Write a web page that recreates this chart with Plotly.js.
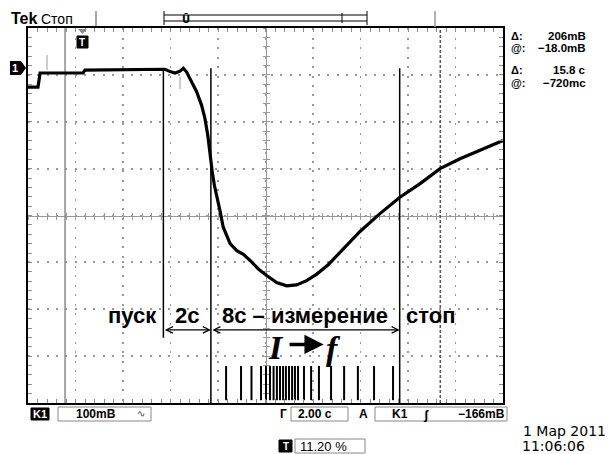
<!DOCTYPE html>
<html><head><meta charset="utf-8">
<script src="https://cdn.plot.ly/plotly-3.0.1.min.js"></script>
<style>html,body{margin:0;padding:0;background:#fff}#chart{width:613px;height:454px}</style>
</head><body><div id="chart"></div>
<script>
// ---------------- DATA ----------------
// Waveform: time (s) from left edge of the screen, voltage (mV) relative to screen centre
const timeS  = [0, 0.42, 0.51, 1.35, 2.32, 2.40, 3.45, 4.72, 5.77, 5.98, 6.19, 6.40, 6.54, 6.68, 6.89, 7.10, 7.31, 7.45, 7.57, 7.66, 7.76, 7.85, 7.95, 8.08, 8.22, 8.37, 8.51, 8.79, 9.07, 9.35, 9.70, 10.05, 10.47, 10.89, 11.31, 11.73, 12.16, 12.64, 13.14, 13.98, 14.82, 15.66, 16.51, 17.35, 18.19, 19.03, 19.87, 20];
const voltMV = [274, 274, 304, 304, 304, 310, 311, 312, 312, 307, 304, 308, 314, 306, 285, 264, 235, 207, 171, 128, 92, 64, 43, 11, -25, -45, -60, -75, -83, -96, -114, -128, -143, -150, -148, -139, -125, -105, -79, -34, 4, 39, 68, 100, 121, 139, 157, 160];
// Event markers (s): start, end of 2 s delay, stop
const eventTimes = [5.7, 7.7, 15.65];
const eventNames = ['пуск', '2с', '8с – измерение', 'стоп'];
// Frequency pulse train (s)
const pulseTimes = [8.34, 8.97, 9.41, 9.81, 10.02, 10.19, 10.34, 10.48, 10.61, 10.74, 10.86, 10.99, 11.12, 11.24, 11.37, 11.62, 11.92, 12.25, 12.76, 13.31, 13.89, 14.57, 15.37];
// Cursors (s)
const cursorTimes = [1.56, 17.36];
// Readouts
const readLabels = ['Δ:', '@:', 'Δ:', '@:'];
const readValues = ['206mB', '−18.0mB', '15.8 с', '−720mс'];
const scaleV = '100mB', scaleT = '2.00 с', trigLevel = '−166mB', trigPos = '11.20 %';
const dateStr = '1 Мар 2011', timeStr = '11:06:06';

// ---------------- LEVELS (drawing) ----------------
const eventTop = 314, eventBottoms = [-261, -400, -400];
const pulseTop = -321, pulseBottom = -394;
const arrowY = -244, labelY = -214;

// helpers for paper coords of the plotting area (28..503 x, 28..403 y)
const L = 28, T = 28, W = 475, H = 375;
const px = x => (x - L) / W;
const py = y => (T + H - y) / H;

function segs(xs, y0s, y1s) {
  const X = [], Y = [];
  xs.forEach((x, i) => { X.push(x, x, null); Y.push(Array.isArray(y0s) ? y0s[i] : y0s, Array.isArray(y1s) ? y1s[i] : y1s, null); });
  return {X, Y};
}

const cur0 = segs([cursorTimes[0]], -400, 400);
const cur1 = segs([cursorTimes[1]], -400, 400);
const ev = segs(eventTimes, eventTop, eventBottoms);
const pu = segs(pulseTimes, pulseTop, pulseBottom);

const traces = [
  {x: cur0.X, y: cur0.Y, mode: 'lines', line: {color: '#8a8a8a', width: 1.5}, hoverinfo: 'skip'},
  {x: cur1.X, y: cur1.Y, mode: 'lines', line: {color: '#555', width: 1.5, dash: '3px,2px'}, hoverinfo: 'skip'},
  {x: pu.X, y: pu.Y, mode: 'lines', line: {color: '#000', width: 2}, hoverinfo: 'skip'},
  {x: ev.X, y: ev.Y, mode: 'lines', line: {color: '#000', width: 1.5}, hoverinfo: 'skip'},
  {x: timeS, y: voltMV, mode: 'lines', line: {color: '#000', width: 3.2}, hoverinfo: 'skip'},
  {x: [], y: [], xaxis: 'x2', yaxis: 'y2', mode: 'lines'},
  {x: [], y: [], xaxis: 'x3', yaxis: 'y3', mode: 'lines'}
];

const tickGray = '#8c8c8c';
function frameAxis(range, dtick, minorD, dash) {
  return {range, dtick, tick0: range[0], showgrid: true, gridcolor: '#999', gridwidth: 1.8, griddash: dash,
    zeroline: false, showline: true, linecolor: '#000', linewidth: 2, mirror: 'allticks',
    ticks: 'inside', ticklen: 4, tickcolor: tickGray, tickwidth: 1, showticklabels: false,
    minor: {dtick: minorD, tick0: range[0], ticks: 'inside', ticklen: 4, tickcolor: tickGray, tickwidth: 1, showgrid: false},
    fixedrange: true};
}
function centerAxis(range, dtick, side, ticks, over) {
  return {range, dtick, tick0: range[0], overlaying: over, anchor: 'free', position: 0.5, side,
    showgrid: false, zeroline: false, showline: true, linecolor: '#999', linewidth: 1,
    ticks, ticklen: 3, tickcolor: '#999', tickwidth: 1, showticklabels: false, layer: 'below traces', fixedrange: true};
}

const bold = (s, c, f) => ({family: f || 'Liberation Sans, Arial, sans-serif', size: s, color: c || '#000', weight: 'bold'});
const reg = (s, c, f) => ({family: f || 'Liberation Sans, Arial, sans-serif', size: s, color: c || '#000'});

const ann = [];
function ptxt(text, x, y, font, xa, ya) {
  ann.push({xref: 'paper', yref: 'paper', x: px(x), y: py(y), text, showarrow: false, font, xanchor: xa || 'left', yanchor: ya || 'middle', borderpad: 0});
}

// Labels in data coords
const lblFont = bold(22);
ann.push({x: eventTimes[0] - 0.2, y: labelY, text: eventNames[0], showarrow: false, font: lblFont, xanchor: 'right', yanchor: 'middle'});
ann.push({x: (eventTimes[0] + eventTimes[1]) / 2, y: labelY, text: eventNames[1], showarrow: false, font: lblFont, xanchor: 'center', yanchor: 'middle'});
ann.push({x: (eventTimes[1] + eventTimes[2]) / 2, y: labelY, text: eventNames[2], showarrow: false, font: lblFont, xanchor: 'center', yanchor: 'middle'});
ann.push({x: eventTimes[2] + 0.2, y: labelY, text: eventNames[3], showarrow: false, font: lblFont, xanchor: 'left', yanchor: 'middle'});
// double arrows
[[eventTimes[0], eventTimes[1]], [eventTimes[1], eventTimes[2]]].forEach(([a, b]) => {
  ann.push({x: b, y: arrowY, ax: a, ay: arrowY, axref: 'x', ayref: 'y', xref: 'x', yref: 'y', text: '', showarrow: true,
    arrowhead: 5, startarrowhead: 5, arrowside: 'end+start', arrowsize: 1, startarrowsize: 1, arrowwidth: 1.3, arrowcolor: '#000'});
});
// I -> f
const serif = {family: 'Liberation Serif, Times New Roman, serif', size: 34, color: '#000', weight: 'bold', style: 'italic'};
ann.push({x: 10.44, y: -281, text: 'I', showarrow: false, font: serif, xanchor: 'center', yanchor: 'middle'});
ann.push({x: 12.85, y: -283, text: 'f', showarrow: false, font: serif, xanchor: 'center', yanchor: 'middle'});
ann.push({x: 12.45, y: -275, ax: 10.95, ay: -275, axref: 'x', ayref: 'y', xref: 'x', yref: 'y', text: '', showarrow: true,
  arrowhead: 2, arrowsize: 1.1, arrowwidth: 3.5, arrowcolor: '#000'});

// top bar
ptxt('Tek', 10, 18, bold(16));
ptxt('Стоп', 40, 19, reg(14));
// readouts
const rdY = [35.5, 48, 70.5, 83];
readLabels.forEach((t, i) => ptxt(t, 510, rdY[i], bold(11)));
readValues.forEach((t, i) => ptxt(t, 587, rdY[i], bold(11.5), 'right'));
// bottom bar
ptxt('K1', 40, 414, bold(11, '#fff'), 'center');
ptxt(scaleV, 75, 414, bold(12));
ptxt('∿', 141, 413, reg(10, '#444'), 'center');
ptxt('Г', 283, 414, bold(12), 'center');
ptxt(scaleT, 297, 414, bold(12));
ptxt('A', 363, 414, bold(12), 'center');
ptxt('K1', 391, 414, bold(12));
ptxt('ʃ', 426, 414, bold(13), 'center');
ptxt(trigLevel, 506, 414, bold(12), 'right');
ptxt(dateStr, 522, 431, reg(14, '#000', 'DejaVu Sans, sans-serif'));
ptxt(timeStr, 521, 446, reg(14, '#000', 'DejaVu Sans, sans-serif'));
ptxt('T', 285.5, 446, bold(10, '#fff'), 'center');
ptxt(trigPos, 299, 446, reg(13));
// markers
ptxt('1', 15, 68, bold(11, '#fff'), 'center');
ptxt('T', 82, 42, bold(10, '#fff'), 'center');
ptxt('Ū', 186, 19, bold(10, '#000', 'DejaVu Sans, sans-serif'), 'center');

const shapes = [];
function pline(x0, y0, x1, y1, color, width, dash) {
  shapes.push({type: 'line', xref: 'paper', yref: 'paper', x0: px(x0), y0: py(y0), x1: px(x1), y1: py(y1), line: {color, width, dash: dash || 'solid'}, layer: 'above'});
}
function prect(x0, y0, x1, y1, color, fill) {
  shapes.push({type: 'rect', xref: 'paper', yref: 'paper', x0: px(x0), y0: py(y0), x1: px(x1), y1: py(y1), line: {color, width: 1}, fillcolor: fill || 'rgba(0,0,0,0)', layer: 'below'});
}
function ppath(pts, fill) {
  const d = pts.map((p, i) => (i ? 'L' : 'M') + px(p[0]).toFixed(5) + ',' + py(p[1]).toFixed(5)).join(' ') + ' Z';
  shapes.push({type: 'path', xref: 'paper', yref: 'paper', path: d, fillcolor: fill, line: {width: 0}, layer: 'below'});
}
// top record bar
pline(96, 11, 96, 26, '#888', 1.5);
pline(164, 11, 164, 25, '#000', 1);
pline(367, 11, 367, 25, '#000', 1);
pline(164, 15, 367, 15, '#000', 1);
pline(164, 21, 367, 21, '#000', 1);
pline(342, 13, 342, 23, '#000', 1);
pline(435, 11, 435, 27, '#999', 1.5);
// channel marker
ppath([[10, 61], [21, 61], [26, 68], [21, 75], [10, 75]], '#000');
// trigger pos marker
ppath([[78, 29], [87, 29], [82.5, 34]], '#888');
prect(77, 36, 88, 48, '#000', '#000');
// small gray ticks on trace
pline(47, 55, 47, 70, '#999', 1);
pline(180, 77, 180, 89, '#999', 1);
// bottom boxes
prect(31, 408, 49, 420, '#000', '#000');
prect(58, 407, 151, 421, '#888');
prect(291, 407, 348, 421, '#888');
prect(375, 407, 507, 421, '#888');
prect(279, 440, 292, 452, '#000', '#000');
prect(295, 439, 365, 453, '#888');

const layout = {
  width: 613, height: 454,
  margin: {l: L, r: 613 - L - W, t: T, b: 454 - T - H, pad: 0},
  paper_bgcolor: '#fff', plot_bgcolor: '#fff', showlegend: false,
  xaxis: frameAxis([0, 20], 2, 0.4, '2px,7.5px'),
  yaxis: frameAxis([-400, 400], 100, 20, '2px,7.35px'),
  xaxis2: centerAxis([0, 20], 0.4, 'bottom', 'outside', 'x'),
  yaxis2: centerAxis([-400, 400], 20, 'left', 'outside', 'y'),
  xaxis3: centerAxis([0, 20], 0.4, 'bottom', 'inside', 'x'),
  yaxis3: centerAxis([-400, 400], 20, 'left', 'inside', 'y'),
  annotations: ann, shapes
};
Plotly.newPlot('chart', traces, layout, {staticPlot: true, displayModeBar: false});
</script></body></html>
